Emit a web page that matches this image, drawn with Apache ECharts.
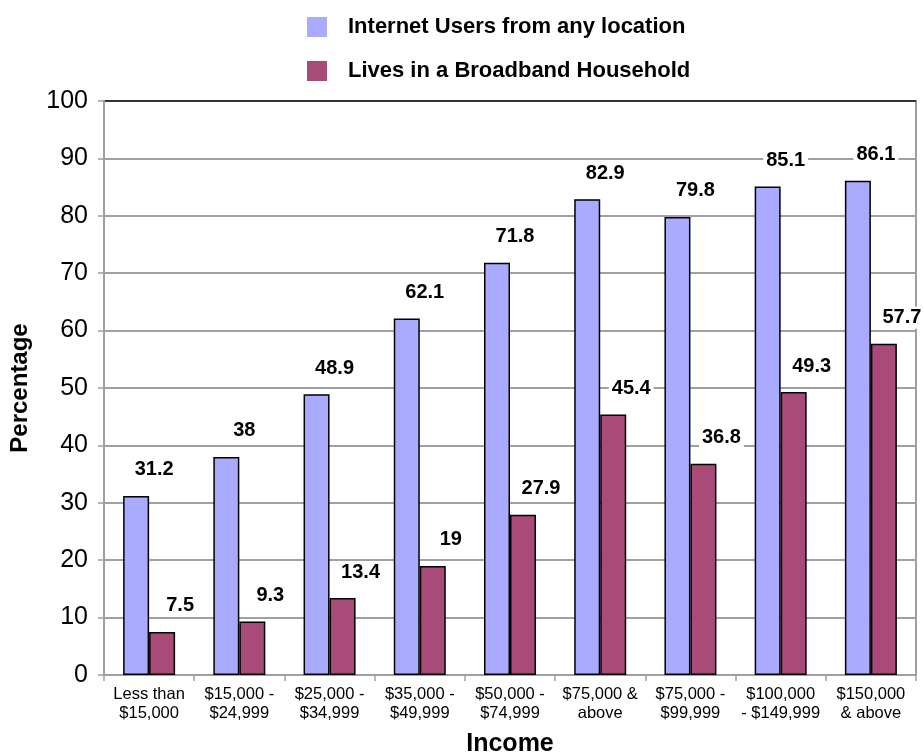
<!DOCTYPE html>
<html>
<head>
<meta charset="utf-8">
<script src="https://cdn.jsdelivr.net/npm/echarts@6/dist/echarts.min.js"></script>
<style>
html,body{margin:0;padding:0;background:#fff;}
#chart{width:924px;height:753px;}
</style>
</head>
<body>
<div id="chart"></div>
<script>
const categories = ['Less than\n$15,000', '$15,000 -\n$24,999', '$25,000 -\n$34,999', '$35,000 -\n$49,999', '$50,000 -\n$74,999', '$75,000 &\nabove', '$75,000 -\n$99,999', '$100,000\n- $149,999', '$150,000\n& above'];
const internetUsers = [31.2, 38, 48.9, 62.1, 71.8, 82.9, 79.8, 85.1, 86.1];
const broadbandHousehold = [7.5, 9.3, 13.4, 19, 27.9, 45.4, 36.8, 49.3, 57.7];
const seriesNames = ['Internet Users from any location', 'Lives in a Broadband Household'];

const FONT = '"Liberation Sans", Arial, sans-serif';
const chart = echarts.init(document.getElementById('chart'), null, {renderer: 'canvas'});

const labelCfg = {
  show: true,
  position: 'top',
  offset: [18, -10],
  formatter: '{c}',
  fontFamily: FONT,
  fontWeight: 'bold',
  fontSize: 20,
  color: '#000',
  backgroundColor: '#fff',
  padding: [1, 3]
};

const gridColors = ['#a0a0a0','#a0a0a0','#a0a0a0','#a0a0a0','#a0a0a0','#a0a0a0','#a0a0a0','#a0a0a0','#a0a0a0','#a0a0a0','#333333'];

chart.setOption({
  animation: false,
  backgroundColor: '#fff',
  textStyle: {fontFamily: FONT},
  legend: {
    orient: 'vertical',
    left: 302,
    top: 11,
    itemWidth: 20,
    itemHeight: 20,
    itemGap: 22,
    icon: 'rect',
    itemStyle: {borderWidth: 0},
    textStyle: {fontFamily: FONT, fontWeight: 'bold', fontSize: 22, lineHeight: 20, color: '#000', padding: [0, 0, 0, 16]},
    data: seriesNames
  },
  grid: {
    left: 104, right: 8, top: 101, bottom: 78,
    show: true, borderColor: '#a0a0a0', borderWidth: 2,
    containLabel: false,
    outerBoundsMode: 'none'
  },
  xAxis: {
    type: 'category',
    data: categories,
    name: 'Income',
    nameLocation: 'middle',
    nameGap: 57,
    nameTextStyle: {fontFamily: FONT, fontWeight: 'bold', fontSize: 25, color: '#000'},
    axisLine: {show: true, lineStyle: {color: '#a0a0a0', width: 2}},
    axisTick: {show: true, length: 6, lineStyle: {color: '#a0a0a0', width: 1.5}, alignWithLabel: false},
    axisLabel: {fontFamily: FONT, fontSize: 16.5, color: '#000', margin: 10, lineHeight: 19, interval: 0},
    splitLine: {show: false}
  },
  yAxis: {
    type: 'value',
    min: 0, max: 100, interval: 10,
    name: 'Percentage',
    nameLocation: 'middle',
    nameRotate: 90,
    nameGap: 72,
    nameTextStyle: {fontFamily: FONT, fontWeight: 'bold', fontSize: 24, color: '#000'},
    axisLine: {show: true, lineStyle: {color: '#a0a0a0', width: 2}},
    axisTick: {show: true, length: 6, lineStyle: {color: '#a0a0a0', width: 1.5}},
    axisLabel: {fontFamily: FONT, fontSize: 25, color: '#000', margin: 16},
    splitLine: {show: true, lineStyle: {color: gridColors, width: 2}}
  },
  series: [
    {
      name: seriesNames[0],
      type: 'bar',
      data: internetUsers,
      barWidth: 26,
      barGap: '0%',
      itemStyle: {color: '#aaaaff', borderColor: '#000', borderWidth: 1.5},
      label: labelCfg
    },
    {
      name: seriesNames[1],
      type: 'bar',
      data: broadbandHousehold,
      barWidth: 26,
      barGap: '0%',
      itemStyle: {color: '#a84b78', borderColor: '#000', borderWidth: 1.5},
      label: labelCfg
    }
  ]
});
</script>
</body>
</html>
